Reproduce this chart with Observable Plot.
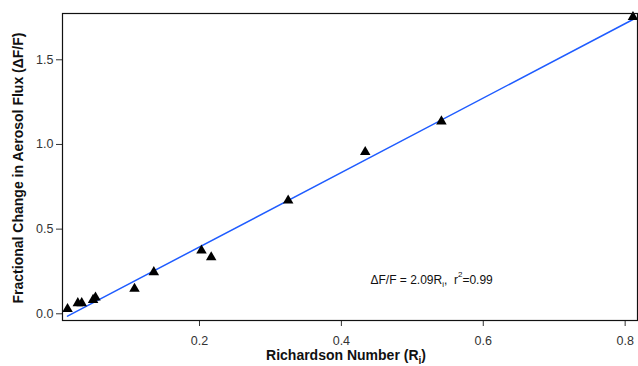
<!DOCTYPE html>
<html><head><meta charset="utf-8">
<script src="https://cdn.jsdelivr.net/npm/d3@7"></script>
<script src="https://cdn.jsdelivr.net/npm/@observablehq/plot@0.6"></script>
<style>body{margin:0;background:#fff;}</style>
</head><body><div id="chart"></div>
<script>
// Observed points
const richardson = [0.014, 0.0285, 0.034, 0.050, 0.0534, 0.1084, 0.1356, 0.2028, 0.2165, 0.325, 0.4336, 0.541, 0.811];
const fluxChange = [0.028, 0.063, 0.063, 0.082, 0.096, 0.148, 0.246, 0.374, 0.334, 0.669, 0.955, 1.136, 1.753];
// Fitted line end points
const fitX = [0.014, 0.811];
const fitY = [-0.014, 1.738];
// Ticks
const xTicks = [0.2, 0.4, 0.6, 0.8];
const yTicks = [0.0, 0.5, 1.0, 1.5];
// Texts
const xLabel = "Richardson Number (Ri)";
const yLabel = "Fractional Change in Aerosol Flux (\u0394F/F)";
const annotation = "\u0394F/F = 2.09Ri, r2=0.99";
const annotationPos = [0.441, 0.20];

const points = richardson.map((x, i) => ({x, y: fluxChange[i]}));
const fit = fitX.map((x, i) => ({x, y: fitY[i]}));

const font = "'Liberation Sans', Arial, Helvetica, sans-serif";

const chart = Plot.plot({
  width: 638,
  height: 366,
  marginLeft: 62,
  marginRight: 1,
  marginTop: 13,
  marginBottom: 46,
  style: {fontFamily: font, fontSize: "12.5px", background: "#fff", color: "#333"},
  x: {domain: [0.0069, 0.8174]},
  y: {domain: [-0.0396, 1.7734]},
  marks: [
    Plot.axisX({ticks: xTicks, tickFormat: d3.format(".1f"), tickSize: 6, tickPadding: 10, label: null, color: "#333"}),
    Plot.axisY({ticks: yTicks, tickFormat: d3.format(".1f"), tickSize: 6, tickPadding: 3, label: null, color: "#333"}),
    Plot.line(fit, {x: "x", y: "y", stroke: "#1f5cff", strokeWidth: 1.5}),
    Plot.dot(points, {x: "x", y: "y", symbol: "triangle", r: 3.9, fill: "black", stroke: "none"}),
    Plot.text([annotation], {x: () => annotationPos[0], y: () => annotationPos[1], text: d => d, textAnchor: "start", fontSize: 12, fill: "#111", className: "annot"}),
    Plot.text([xLabel], {frameAnchor: "bottom", text: d => d, textAnchor: "middle", lineAnchor: "middle", dx: -4, dy: 35, fontSize: 14, fontWeight: "bold", fill: "#111", className: "xlab"}),
    Plot.text([yLabel], {frameAnchor: "left", text: d => d, textAnchor: "middle", lineAnchor: "middle", rotate: -90, dx: -44, dy: 1, fontSize: 14, fontWeight: "bold", fill: "#111"}),
    Plot.frame({stroke: "#111", strokeWidth: 1.2})
  ]
});

document.getElementById("chart").appendChild(chart);

// Rich text: subscripts / superscripts
const svg = d3.select(chart);
svg.selectAll(".xlab text").each(function() {
  const t = d3.select(this);
  t.text(null);
  t.append("tspan").text("Richardson Number (R");
  t.append("tspan").attr("dy", 4).attr("font-size", "10px").text("i");
  t.append("tspan").attr("dy", -4).text(")");
});
svg.selectAll(".annot text").each(function() {
  const t = d3.select(this);
  t.text(null);
  t.append("tspan").text("\u0394F/F = 2.09R");
  t.append("tspan").attr("dy", 3).attr("font-size", "8px").text("i");
  t.append("tspan").attr("dy", -3).text(",\u00a0 r");
  t.append("tspan").attr("dy", -7).attr("font-size", "8px").text("2");
  t.append("tspan").attr("dy", 7).text("=0.99");
});
</script>
</body></html>
